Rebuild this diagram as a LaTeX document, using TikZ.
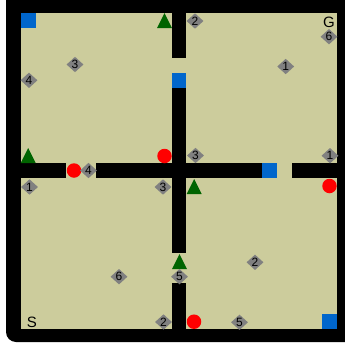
\documentclass[tikz,border=0pt]{standalone}
\usepackage{fontspec}
\setmainfont{Liberation Sans}
\usetikzlibrary{shapes.geometric}
\definecolor{floorcol}{RGB}{204,204,156}
\definecolor{boxblue}{RGB}{0,102,204}
\definecolor{triggreen}{RGB}{0,100,0}
\definecolor{ballred}{RGB}{255,0,0}
\definecolor{tagcol}{RGB}{128,128,128}

\tikzset{
  numtag/.style={diamond, fill=tagcol, inner sep=0pt, minimum width=17pt,
    minimum height=15.5pt, font=\fontsize{12}{12}\selectfont},
  bluebox/.style={fill=boxblue},
  redball/.style={circle, fill=ballred, inner sep=0pt, minimum size=14.5pt},
  greentri/.style={fill=triggreen},
  marker/.style={font=\fontsize{15}{15}\selectfont}
}

\begin{document}
\begin{tikzpicture}[x=1pt, y=-1pt]
  \useasboundingbox (0,0) rectangle (345,349);

  %% -- Outer frame and floor --
  \fill[black, rounded corners=10pt] (6,-10) rectangle (360,342);
  \fill[floorcol] (20.7,12.7) rectangle (336.7,329.3);

  %% -- Inner walls --
  \fill[black] (171.5,12.7) rectangle (186,58);
  \fill[black] (171.5,88) rectangle (186,253);
  \fill[black] (171.5,283) rectangle (186,329.3);
  \fill[black] (20.7,163) rectangle (66,178);
  \fill[black] (96,163) rectangle (262,178);
  \fill[black] (292,163) rectangle (336.7,178);

  %% -- Blue boxes --
  \fill[bluebox] (20.7,12.7) rectangle (35.7,28);
  \fill[bluebox] (171.5,73) rectangle (186,88);
  \fill[bluebox] (262,163) rectangle (277,178);
  \fill[bluebox] (322,314) rectangle (336.7,329.3);

  %% -- Green triangles --
  \fill[greentri] (164.5,13) -- (172,28) -- (157,28) -- cycle;
  \fill[greentri] (28.2,148) -- (35.7,163) -- (20.7,163) -- cycle;
  \fill[greentri] (194.2,179) -- (201.7,194) -- (186.7,194) -- cycle;
  \fill[greentri] (179.5,254) -- (187,269) -- (172,269) -- cycle;

  %% -- Red balls --
  \node[redball] (ballA) at (164.5,156) {};
  \node[redball] (ballB) at (74,170.5) {};
  \node[redball] (ballC) at (329.5,186) {};
  \node[redball] (ballD) at (194,321.7) {};

  %% -- Numbered tags --
  \node[numtag] (tagA) at (195,21) {2};
  \node[numtag] (tagB) at (329,36.7) {6};
  \node[numtag] (tagC) at (75,64.5) {3};
  \node[numtag] (tagD) at (29,80.3) {4};
  \node[numtag] (tagE) at (285.7,66.5) {1};
  \node[numtag] (tagF) at (195.5,155.5) {3};
  \node[numtag] (tagG) at (330,155.7) {1};
  \node[numtag] (tagH) at (88.5,170.5) {4};
  \node[numtag] (tagI) at (29.5,187) {1};
  \node[numtag] (tagJ) at (163,187) {3};
  \node[numtag] (tagK) at (179.5,276.7) {5};
  \node[numtag] (tagL) at (255,262.3) {2};
  \node[numtag] (tagM) at (119,276.7) {6};
  \node[numtag] (tagN) at (163.5,322) {2};
  \node[numtag] (tagO) at (239.5,322.3) {5};

  %% -- Start and goal --
  \node[marker] (goal) at (329,22.5) {G};
  \node[marker] (start) at (32,322) {S};

\end{tikzpicture}
\end{document}
